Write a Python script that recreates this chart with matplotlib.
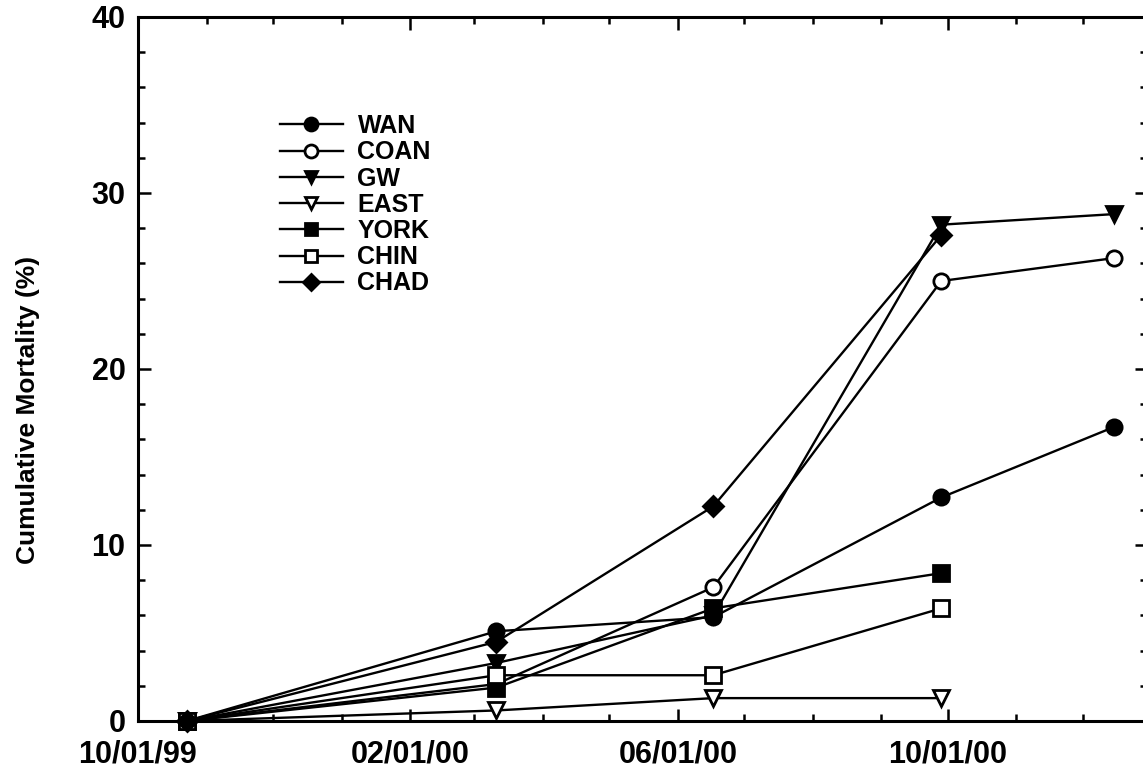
import matplotlib
matplotlib.use("Agg")
import matplotlib.pyplot as plt
import matplotlib.dates as mdates
import numpy as np
import pandas as pd

plt.rcParams["font.family"] = ["Liberation Sans", "DejaVu Sans"]
plt.rcParams["font.weight"] = "bold"

# sampling dates and cumulative mortality (%) per site
dates = pd.to_datetime(["1999-10-23", "2000-03-11", "2000-06-17", "2000-09-28", "2000-12-15"])
wan = [0.0, 5.1, 5.9, 12.7, 16.7]
coan = [0.0, 2.1, 7.6, 25.0, 26.3]
gw = [0.0, 3.3, 6.0, 28.2, 28.8]
east = [0.0, 0.6, 1.3, 1.3]
york = [0.0, 1.9, 6.4, 8.4]
chin = [0.0, 2.6, 2.6, 6.4]
chad = [0.0, 4.5, 12.2, 27.6]

series = [
    ("WAN", wan, "o", "black"),
    ("COAN", coan, "o", "white"),
    ("GW", gw, "v", "black"),
    ("EAST", east, "v", "white"),
    ("YORK", york, "s", "black"),
    ("CHIN", chin, "s", "white"),
    ("CHAD", chad, "D", "black"),
]

W, H = 1143, 771
fig = plt.figure(figsize=(W / 100, H / 100), dpi=100)
ax = fig.add_axes([138 / W, (H - 721) / H, (1147 - 138) / W, (721 - 17) / H])

for name, vals, marker, face in series:
    msize = 10 if marker == "D" else 11
    ax.plot(dates[:len(vals)], vals, color="black", lw=1.7, marker=marker,
            markersize=msize, markerfacecolor=face, markeredgecolor="black",
            markeredgewidth=2.0, label=name, clip_on=False, zorder=3)

ax.set_xlim(pd.Timestamp("1999-10-01"), pd.Timestamp("2000-12-30"))
ax.set_ylim(0, 40)
ax.xaxis.set_major_locator(mdates.MonthLocator(bymonth=[2, 6, 10]))
ax.xaxis.set_major_formatter(mdates.DateFormatter("%m/%d/%y"))
ax.xaxis.set_minor_locator(mdates.MonthLocator())
ax.set_yticks(np.arange(0, 41, 10))
ax.set_yticks(np.arange(0, 41, 2), minor=True)

ax.tick_params(which="both", direction="in", top=True, right=True, width=1.8)
ax.tick_params(which="major", length=9, labelsize=22, pad=9)
ax.tick_params(axis="x", which="major", pad=13)
ax.tick_params(which="minor", length=5)
for s in ax.spines.values():
    s.set_linewidth(2.2)

ax.set_ylabel("Cumulative Mortality (%)", fontsize=19, fontweight="bold")
ax.yaxis.set_label_coords((40 - 138) / (1147 - 138), (721 - 410) / 704)

ax.legend(loc="upper left", bbox_to_anchor=((280 - 138) / (1147 - 138), (721 - 114) / 704),
          frameon=False, fontsize=18, handlelength=2.5, handletextpad=0.6,
          labelspacing=0.09, markerscale=0.85, borderpad=0, borderaxespad=0)

fig.savefig("out.png", dpi=100)
